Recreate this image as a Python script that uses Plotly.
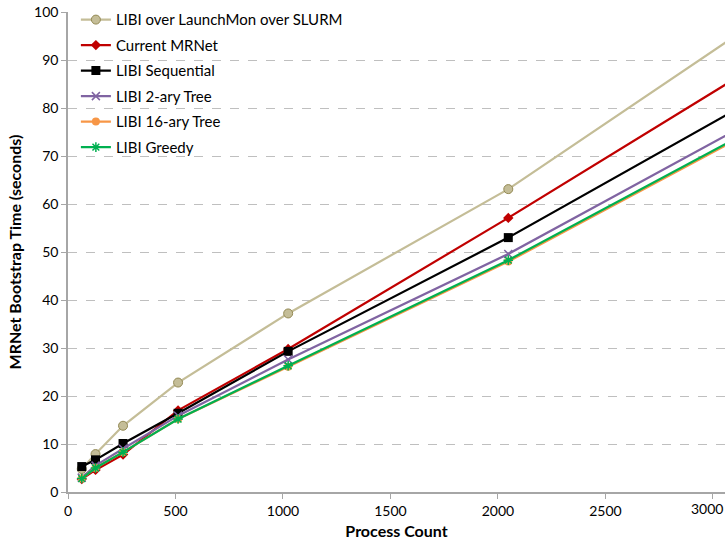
import plotly.graph_objects as go

process_count = [64, 128, 256, 512, 1024, 2048, 4096]

series_names = [
    "LIBI over LaunchMon over SLURM",
    "Current MRNet",
    "LIBI Sequential",
    "LIBI 2-ary Tree",
    "LIBI 16-ary Tree",
    "LIBI Greedy",
]

launchmon = [4.8, 7.9, 13.8, 22.8, 37.2, 63.1, 125.0]
current_mrnet = [2.7, 4.6, 7.8, 17.0, 29.8, 57.1, 113.4]
libi_sequential = [5.3, 6.7, 10.1, 16.4, 29.3, 53.0, 104.6]
libi_2ary = [3.0, 5.5, 9.0, 15.9, 27.6, 49.6, 99.5]
libi_16ary = [2.8, 5.0, 8.3, 15.2, 26.1, 48.0, 97.0]
libi_greedy = [2.8, 5.0, 8.3, 15.2, 26.3, 48.3, 97.4]

x_ticks = [0, 500, 1000, 1500, 2000, 2500, 3000]
y_ticks = list(range(0, 101, 10))

styles = [
    dict(color="#C4BD97", symbol="circle", size=9, lc="#938953", lw=1),
    dict(color="#C00000", symbol="diamond", size=8, lc="#C00000", lw=0),
    dict(color="#000000", symbol="square", size=9, lc="#000000", lw=0),
    dict(color="#8064A2", symbol="x-thin", size=8, lc="#8064A2", lw=1.5),
    dict(color="#F79646", symbol="circle", size=8, lc="#F79646", lw=0),
    dict(color="#00B050", symbol="asterisk", size=8, lc="#00B050", lw=1.5),
]

data = [launchmon, current_mrnet, libi_sequential, libi_2ary, libi_16ary, libi_greedy]

font_family = "Lato, 'Open Sans', sans-serif"

fig = go.Figure()
for i, (name, ys, st) in enumerate(zip(series_names, data, styles)):
    fig.add_trace(go.Scatter(
        x=process_count, y=ys, name=name, mode="lines+markers", legendgroup=f"g{i}",
        line=dict(color=st["color"], width=2.2),
        marker=dict(symbol=st["symbol"], size=st["size"], color=st["color"],
                    line=dict(color=st["lc"], width=st["lw"])),
    ))

# last x tick label sits at the window edge in the reference; keep it fully inside
fig.add_annotation(x=1.0, y=0, xref="paper", yref="paper", text=str(x_ticks[-1]),
                   showarrow=False, xanchor="right", yanchor="top", yshift=-6,
                   font=dict(size=14))

fig.update_layout(
    width=725, height=548,
    margin=dict(l=68, r=0, t=12, b=56),
    paper_bgcolor="white", plot_bgcolor="white",
    font=dict(family=font_family, size=14, color="#000000"),
    showlegend=True,
    legend=dict(x=0.012, y=1.018, xanchor="left", yanchor="top",
                bgcolor="rgba(0,0,0,0)", font=dict(size=15, family=font_family),
                itemwidth=30, tracegroupgap=3),
    xaxis=dict(range=[0, 3056], tickvals=x_ticks, ticks="outside", ticklen=5,
               tickcolor="#A6A6A6", showline=True, linecolor="#A6A6A6", linewidth=1.5,
               showgrid=False, zeroline=False,
               title=dict(text="<b>Process Count</b>", font=dict(size=16), standoff=8)),
    yaxis=dict(range=[0, 100], tickvals=y_ticks, ticks="outside", ticklen=5,
               tickcolor="#A6A6A6", showline=True, linecolor="#A6A6A6", linewidth=1.5,
               showgrid=True, gridcolor="#BFBFBF", griddash="dash", gridwidth=1.2,
               zeroline=False,
               title=dict(text="<b>MRNet Bootstrap Time (seconds)</b>", font=dict(size=16), standoff=8)),
)

fig.write_html("out.html")
